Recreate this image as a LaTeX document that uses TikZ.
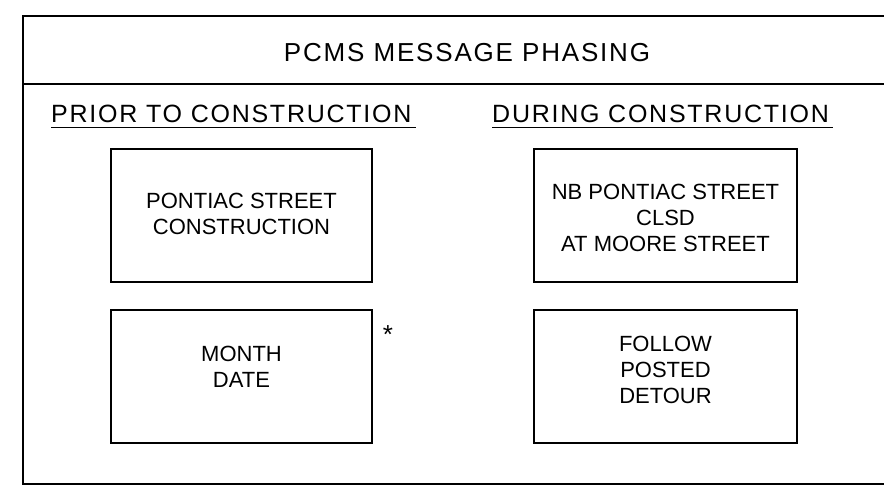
\documentclass[tikz,border=0pt]{standalone}
\usepackage{fontspec}
\setmainfont{Liberation Sans}
\newfontfamily\headfamily[LetterSpace=7]{Liberation Sans}
\usepackage{tikz}
\usetikzlibrary{positioning, calc}
\newcommand{\boxfont}{\fontsize{22}{26}\selectfont}
\newcommand{\headfont}{\headfamily\fontsize{25}{30}\selectfont}
\newcommand{\titlefont}{\headfamily\fontsize{26}{30}\selectfont}

\begin{document}
\begin{tikzpicture}[
    x=1pt, y=-1pt,
    frame/.style={draw=black, line width=1.6pt},
    msgbox/.style={
        rectangle, draw=black, line width=1.6pt, minimum width=261pt,
        minimum height=133pt, inner sep=0pt
    },
    msgtext/.style={align=center, font=\boxfont, inner sep=0pt},
    heading/.style={font=\headfont, inner sep=0pt, anchor=base west},
    rule/.style={draw=black, line width=0.9pt}
]
\useasboundingbox (0,0) rectangle (884,488);

% outer frame, open on the right
\draw[frame] (890,16) -- (23,16) -- (23,484) -- (890,484);
\draw[frame] (23,84) -- (890,84);
\node[font=\titlefont, inner sep=0pt, anchor=base] (title) at (467,61) {PCMS MESSAGE PHASING};

\node[heading] (prior)  at (51,122)  {PRIOR TO CONSTRUCTION};
\node[heading] (during) at (492,122) {DURING CONSTRUCTION};
\foreach \h in {prior, during}
  \draw[rule] ([yshift=-5pt]\h.base west) -- ([shift={(4pt,-5pt)}]\h.base east);

\node[msgbox] (b1) at (241.5,215.5) {};
\node[msgbox] (b2) at (241.5,376.5) {};
\node[msgbox, minimum width=263pt] (b3) at (665.5,215.5) {};
\node[msgbox, minimum width=263pt] (b4) at (665.5,376.5) {};

\node[msgtext] (pontiac) at ([yshift=2pt]b1.center)  {PONTIAC STREET\\CONSTRUCTION};
\node[msgtext] (month)   at ([yshift=10pt]b2.center) {MONTH\\DATE};
\node[msgtext] (closed)  at ([yshift=-2pt]b3.center) {NB PONTIAC STREET\\CLSD\\AT MOORE STREET};
\node[msgtext] (detour)  at ([yshift=7pt]b4.center)  {FOLLOW\\POSTED\\DETOUR};

\node[font=\fontsize{26}{30}\selectfont, inner sep=0pt, anchor=base] (star) at (388,343) {*};
\end{tikzpicture}
\end{document}
